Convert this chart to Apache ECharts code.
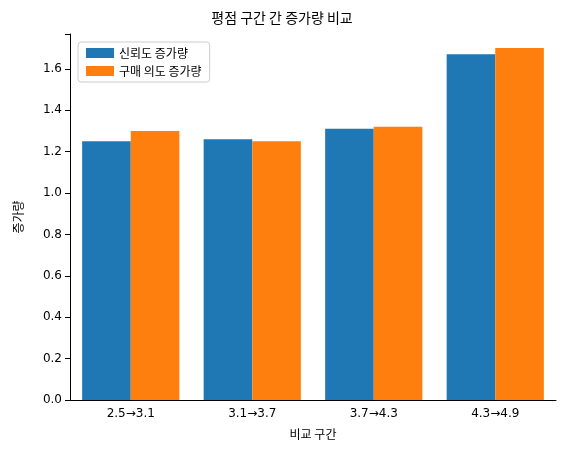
<!DOCTYPE html>
<html><head><meta charset="utf-8">
<script src="https://cdn.jsdelivr.net/npm/echarts@6/dist/echarts.min.js"></script>
<style>html,body{margin:0;background:#fff}#c{width:564px;height:454px}</style>
</head><body><div id="c"></div>
<script>
const categories = ['2.5→3.1','3.1→3.7','3.7→4.3','4.3→4.9'];
const trustGain = [1.25, 1.26, 1.31, 1.67];
const purchaseGain = [1.30, 1.25, 1.32, 1.70];
const yTicks = [0,0.2,0.4,0.6,0.8,1.0,1.2,1.4,1.6];
const F = '"Noto Sans CJK KR","DejaVu Sans",sans-serif';
const chart = echarts.init(document.getElementById('c'));
chart.setOption({
  animation:false,
  textStyle:{fontFamily:F},
  title:{text:'평점 구간 간 증가량 비교',left:'center',top:6,textStyle:{fontSize:14,fontWeight:'normal',color:'#000',fontFamily:F}},
  legend:{left:78,top:42,orient:'vertical',itemWidth:28,itemHeight:10,itemGap:6,
    backgroundColor:'rgba(255,255,255,0.8)',borderColor:'#ccc',borderWidth:1,borderRadius:3,padding:[5,8],
    textStyle:{fontSize:12,color:'#000',fontFamily:F},icon:'rect',data:['신뢰도 증가량','구매 의도 증가량']},
  grid:{left:70,right:8,top:34,bottom:54},
  xAxis:{type:'category',data:categories,name:'비교 구간',nameLocation:'middle',nameGap:28,
    nameTextStyle:{fontSize:12,color:'#000'},
    axisLine:{lineStyle:{color:'#000'}},axisTick:{alignWithLabel:true,lineStyle:{color:'#000'}},
    axisLabel:{fontSize:12,color:'#000',fontFamily:'"DejaVu Sans",sans-serif'}},
  yAxis:{type:'value',min:0,max:1.768,interval:0.2,name:'증가량',nameLocation:'middle',nameGap:46,
    nameTextStyle:{fontSize:12,color:'#000'},
    axisLine:{show:true,lineStyle:{color:'#000'}},axisTick:{show:true,lineStyle:{color:'#000'}},splitLine:{show:false},
    axisLabel:{fontSize:12,color:'#000',fontFamily:'"DejaVu Sans",sans-serif',
      formatter:v=>yTicks.some(t=>Math.abs(t-v)<1e-6)?v.toFixed(1):''}},
  series:[
    {name:'신뢰도 증가량',type:'bar',data:trustGain,itemStyle:{color:'#1f77b4'},barGap:'0%',barCategoryGap:'20%'},
    {name:'구매 의도 증가량',type:'bar',data:purchaseGain,itemStyle:{color:'#ff7f0e'}}
  ]
});
</script></body></html>
